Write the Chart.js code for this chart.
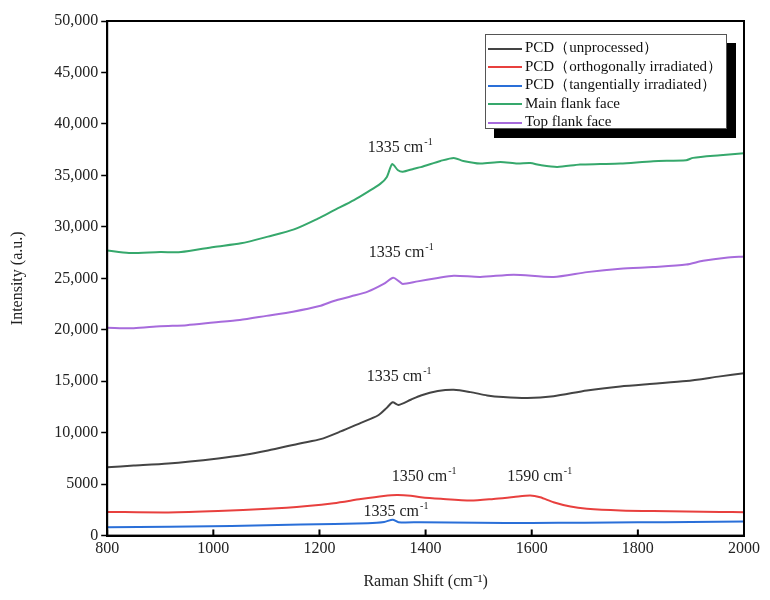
<!DOCTYPE html>
<html>
<head>
<meta charset="utf-8">
<script src="https://cdn.jsdelivr.net/npm/chart.js@4.4.0/dist/chart.umd.min.js"></script>
<style>
	body { margin: 0; background: #fff; }
	#wrap { position: relative; width: 770px; height: 600px; }
	#legendBox {
		position: absolute; left: 485px; top: 34px; width: 242px; height: 95px;
		border: 1px solid #555; background: #fff; box-shadow: 9px 9px 0 #000;
		font-family: 'Liberation Serif', 'Times New Roman', serif; font-size: 15px; color: #111;
		box-sizing: border-box; padding-top: 3px;
	}
	.row { height: 18.6px; line-height: 18.6px; white-space: nowrap; }
	.swatch { display: inline-block; width: 34px; height: 2px; margin: 0 3px 0 2px; vertical-align: middle; }
</style>
</head>
<body>
<div id="wrap">
	<canvas id="myChart" width="770" height="600"></canvas>
	<div id="legendBox"></div>
</div>
<script>

var seriesNames = ['PCD（unprocessed）', 'PCD（orthogonally irradiated）', 'PCD（tangentially irradiated）', 'Main flank face', 'Top flank face'];
var colorHex = ['#444444', '#e8403e', '#2a6fd8', '#36a86c', '#a76bdc'];

// Raman shift positions and intensities
var grayX = [800, 850, 915, 1009, 1060, 1103, 1165, 1202, 1240, 1278, 1310, 1328, 1338, 1349, 1372, 1391, 1423, 1453, 1485, 1516, 1546, 1592, 1641, 1704, 1767, 1829, 1891, 1955, 2000];
var grayY = [6650, 6800, 7000, 7500, 7850, 8270, 8980, 9370, 10120, 10960, 11670, 12480, 12950, 12700, 13200, 13620, 14040, 14170, 13940, 13620, 13460, 13360, 13550, 14100, 14490, 14750, 15010, 15470, 15780];

var redX = [800, 915, 1009, 1103, 1177, 1227, 1278, 1321, 1346, 1372, 1391, 1429, 1485, 1528, 1566, 1597, 1616, 1641, 1673, 1704, 1767, 1829, 1891, 1955, 2000];
var redY = [2300, 2250, 2380, 2600, 2880, 3150, 3550, 3850, 3950, 3880, 3730, 3570, 3400, 3560, 3750, 3900, 3720, 3240, 2820, 2620, 2450, 2380, 2350, 2300, 2280];

var blueX = [800, 1034, 1165, 1291, 1322, 1338, 1349, 1391, 1500, 1600, 1700, 1800, 1900, 2000];
var blueY = [800, 930, 1080, 1200, 1320, 1550, 1300, 1300, 1250, 1220, 1260, 1300, 1320, 1380];

var greenX = [800, 841, 900, 939, 1001, 1052, 1103, 1152, 1197, 1227, 1265, 1291, 1315, 1327, 1337, 1348, 1357, 1378, 1391, 1428, 1453, 1471, 1503, 1541, 1573, 1597, 1616, 1648, 1691, 1729, 1767, 1829, 1891, 1904, 1955, 2000];
var greenY = [27700, 27450, 27550, 27550, 28050, 28400, 29050, 29750, 30800, 31600, 32600, 33400, 34200, 34850, 36100, 35500, 35350, 35650, 35800, 36400, 36700, 36400, 36150, 36300, 36150, 36200, 36000, 35820, 36050, 36100, 36150, 36380, 36480, 36700, 36950, 37150];

var purpleX = [800, 850, 900, 950, 1000, 1050, 1100, 1150, 1200, 1227, 1260, 1291, 1321, 1339, 1350, 1357, 1385, 1420, 1453, 1503, 1566, 1641, 1704, 1767, 1829, 1891, 1923, 1966, 2000];
var purpleY = [20200, 20150, 20350, 20450, 20700, 20950, 21350, 21750, 22300, 22800, 23250, 23700, 24450, 25050, 24700, 24450, 24700, 25000, 25250, 25130, 25350, 25130, 25600, 25930, 26100, 26330, 26700, 27000, 27120];

var xTicks = [800, 2000, 200];
var yTicks = [0, 50000, 5000];

// peak labels: left edge (cm-1), baseline (intensity), text
var peakX = [1291, 1293, 1289, 1336, 1554, 1283];
var peakY = [37250, 27050, 15000, 5350, 5350, 1950];
var peakText = ['1335', '1335', '1335', '1350', '1590', '1335'];

var serif = "'Liberation Serif', 'Times New Roman', serif";

function points(xs, ys) {
	var out = [];
	for (var i = 0; i < xs.length; i++) out.push({ x: xs[i], y: ys[i] });
	return out;
}

var seriesData = [points(grayX, grayY), points(redX, redY), points(blueX, blueY), points(greenX, greenY), points(purpleX, purpleY)];

var datasets = [];
for (var i = 0; i < seriesNames.length; i++) {
	datasets.push({
		label: seriesNames[i],
		data: seriesData[i],
		borderColor: colorHex[i],
		backgroundColor: colorHex[i],
		borderWidth: 2,
		pointRadius: 0,
		tension: 0.25
	});
}

var framePlugin = {
	id: 'frame',
	afterDatasetsDraw: function(chart) {
		var c = chart.ctx, a = chart.chartArea;
		var xs = chart.scales.x;
		c.save();
		c.strokeStyle = '#000';
		c.lineWidth = 2;
		c.strokeRect(a.left, a.top, a.right - a.left, a.bottom - a.top);
		// inward ticks on the bottom axis
		c.beginPath();
		xs.ticks.forEach(function(t) {
			var px = xs.getPixelForValue(t.value);
			c.moveTo(px, a.bottom);
			c.lineTo(px, a.bottom - 6);
		});
		c.stroke();
		// peak labels with superscript
		c.fillStyle = '#222';
		c.textBaseline = 'alphabetic';
		c.textAlign = 'left';
		for (var i = 0; i < peakX.length; i++) {
			var px = xs.getPixelForValue(peakX[i]);
			var py = chart.scales.y.getPixelForValue(peakY[i]);
			c.font = '16px ' + serif;
			var base = peakText[i] + ' cm';
			c.fillText(base, px, py);
			var w = c.measureText(base).width;
			c.font = '10px ' + serif;
			c.fillText('-1', px + w + 1, py - 7);
		}
		c.restore();
	}
};

var ctx = document.getElementById('myChart').getContext('2d');
var myChart = new Chart(ctx, {
	type: 'line',
	data: { datasets: datasets },
	options: {
		responsive: false,
		animation: false,
		layout: { padding: { left: 4, right: 26, top: 21, bottom: 9 } },
		plugins: { legend: { display: false }, tooltip: { enabled: false } },
		scales: {
			x: {
				type: 'linear',
				min: xTicks[0], max: xTicks[1],
				ticks: { stepSize: xTicks[2], color: '#222', font: { family: serif, size: 16 }, padding: 4, maxRotation: 0,
					callback: function(v) { return String(v); } },
				grid: { display: false, drawTicks: false },
				border: { color: '#000', width: 2 },
				title: { display: true, text: 'Raman Shift (cm⁻¹)', color: '#222', font: { family: serif, size: 16 }, padding: { top: 9, bottom: 0 } }
			},
			y: {
				min: yTicks[0], max: yTicks[1],
				ticks: { stepSize: yTicks[2], color: '#222', font: { family: serif, size: 16 }, padding: 3,
					callback: function(v) { return v >= 10000 ? v.toLocaleString('en-US') : String(v); } },
				grid: { drawOnChartArea: false, drawTicks: true, tickLength: 6, tickColor: '#000', tickWidth: 1.5 },
				border: { color: '#000', width: 2 },
				title: { display: true, text: 'Intensity (a.u.)', color: '#222', font: { family: serif, size: 16 }, padding: { top: 4, bottom: 24 } }
			}
		}
	},
	plugins: [framePlugin]
});

// legend drawn in a box inside the plot, from the datasets
var legendBox = document.getElementById('legendBox');
myChart.data.datasets.forEach(function(ds) {
	var row = document.createElement('div');
	row.className = 'row';
	var sw = document.createElement('span');
	sw.className = 'swatch';
	sw.style.background = ds.borderColor;
	row.appendChild(sw);
	row.appendChild(document.createTextNode(ds.label));
	legendBox.appendChild(row);
});
</script>
</body>
</html>
